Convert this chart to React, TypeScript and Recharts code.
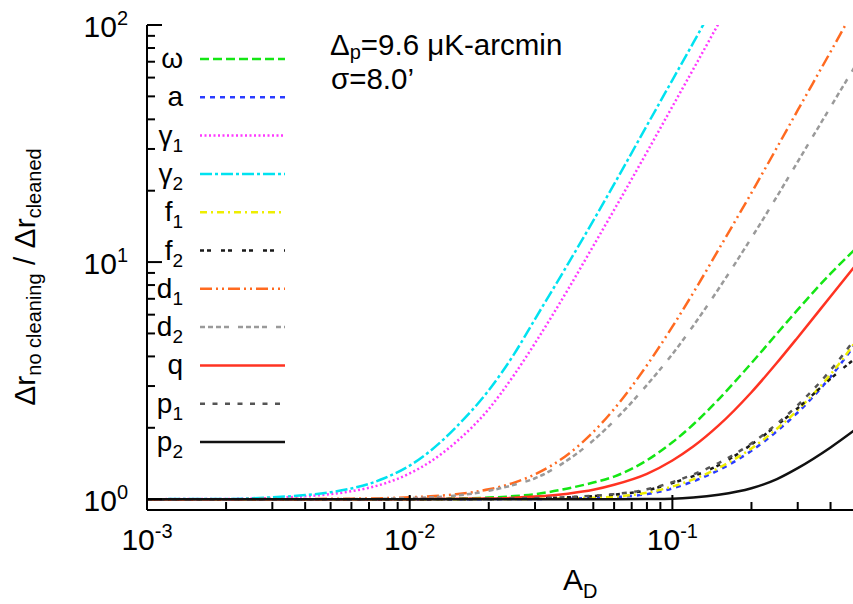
import React from 'react';
import { LineChart, Line, XAxis, YAxis, Customized } from 'recharts';

const xValues = [0.001, 0.002, 0.003, 0.004, 0.005, 0.006, 0.007, 0.008, 0.01, 0.012, 0.015, 0.02, 0.025, 0.03, 0.04, 0.05, 0.06, 0.08, 0.1, 0.12, 0.15, 0.2, 0.25, 0.3, 0.4, 0.5];

const omega = [1, 1, 1, 1, 1, 1, 1, 1, 1, 1.002, 1.006, 1.015, 1.03, 1.05, 1.11, 1.175, 1.245, 1.459, 1.737, 2.064, 2.638, 3.75, 4.99, 6.3, 8.94, 11.43];
const aSeries = [1, 1, 1, 1, 1, 1, 1, 1, 1, 1, 1, 1, 1.001, 1.002, 1.005, 1.011, 1.02, 1.05, 1.11, 1.188, 1.325, 1.6, 1.935, 2.32, 3.28, 4.55];
const gamma1 = [1, 1.002, 1.012, 1.028, 1.05, 1.08, 1.117, 1.163, 1.284, 1.44, 1.74, 2.4, 3.35, 4.55, 7.65, 11.7, 16.6, 29.1, 45.3, 65.0, 101.6, 180, null, null, null, null];
const gamma2 = [1, 1.002, 1.018, 1.04, 1.07, 1.11, 1.16, 1.225, 1.385, 1.6, 2.01, 2.88, 4.1, 5.75, 9.8, 14.96, 21.3, 37.7, 58.6, 84.0, 131.5, null, null, null, null, null];
const f1 = [1, 1, 1, 1, 1, 1, 1, 1, 1, 1, 1, 1.001, 1.002, 1.003, 1.007, 1.014, 1.025, 1.064, 1.13, 1.211, 1.354, 1.637, 1.98, 2.376, 3.356, 4.64];
const f2 = [1, 1, 1, 1, 1, 1, 1, 1, 1, 1, 1.001, 1.002, 1.004, 1.008, 1.018, 1.03, 1.045, 1.09, 1.17, 1.25, 1.39, 1.7, 2.05, 2.42, 3.22, 3.95];
const d1 = [1, 1, 1.001, 1.002, 1.003, 1.005, 1.007, 1.01, 1.018, 1.028, 1.049, 1.1, 1.174, 1.272, 1.544, 1.92, 2.4, 3.67, 5.34, 7.41, 11.3, 19.6, 30.4, 43.7, 77.1, 120.6];
const d2 = [1, 1, 1, 1, 1, 1.001, 1.002, 1.004, 1.01, 1.018, 1.035, 1.085, 1.15, 1.225, 1.464, 1.77, 2.14, 3.03, 4.09, 5.38, 7.72, 12.66, 18.9, 26.5, 45.1, 68];
const q = [1, 1, 1, 1, 1, 1, 1, 1, 1, 1.001, 1.003, 1.007, 1.014, 1.025, 1.055, 1.095, 1.15, 1.279, 1.456, 1.666, 2.046, 2.825, 3.76, 4.81, 7.16, 9.75];
const p1 = [1, 1, 1, 1, 1, 1, 1, 1, 1, 1.001, 1.002, 1.003, 1.006, 1.01, 1.02, 1.033, 1.05, 1.1, 1.18, 1.27, 1.42, 1.72, 2.08, 2.49, 3.5, 4.8];
const p2 = [1, 1, 1, 1, 1, 1, 1, 1, 1, 1, 1, 1, 1, 1, 1, 1, 1, 1.002, 1.005, 1.0156, 1.043, 1.111, 1.215, 1.351, 1.652, 1.975];

const seriesKeys = ['omega', 'a', 'gamma1', 'gamma2', 'f1', 'f2', 'd1', 'd2', 'q', 'p1', 'p2'];
const seriesValues = [omega, aSeries, gamma1, gamma2, f1, f2, d1, d2, q, p1, p2];
const legendNames = ['ω', 'a', 'γ', 'γ', 'f', 'f', 'd', 'd', 'q', 'p', 'p'];
const legendSubs = ['', '', '1', '2', '1', '2', '1', '2', '', '1', '2'];

const xTicks = [0.001, 0.002, 0.003, 0.004, 0.005, 0.006, 0.007, 0.008, 0.009, 0.01, 0.02, 0.03, 0.04, 0.05, 0.06, 0.07, 0.08, 0.09, 0.1, 0.2, 0.3, 0.4];
const xMajor = [0.001, 0.01, 0.1];
const xMajorLabels = ['-3', '-2', '-1'];
const yTicks = [1, 2, 3, 4, 5, 6, 7, 8, 9, 10, 20, 30, 40, 50, 60, 70, 80, 90, 100];
const yMajor = [1, 10, 100];
const yMajorLabels = ['0', '1', '2'];

const colors = ['#14e614', '#2a3cff', '#ff38ff', '#00e2f0', '#eeee00', '#1a1a1a', '#ff6a20', '#9a9a9a', '#ff3322', '#555555', '#111111'];
const dashes = ['9 4', '5 5', '2 2.5', '12 3 3 3', '7 4 2 4', '4 3 4 10', '12 4 2 4 2 4', '5 3 5 3 5 3 5 9', '', '5 7.5', ''];

const FONT = '"Liberation Sans", Arial, Helvetica, sans-serif';

const data = xValues.map((x, i) => {
  const row: Record<string, number | null> = { x };
  seriesKeys.forEach((k, j) => {
    row[k] = seriesValues[j][i];
  });
  return row;
});

const MAJ = 15;
const MIN = 8;

const BottomTick = (props: any) => {
  const { x, y, payload } = props;
  const idx = xMajor.indexOf(payload.value);
  const len = idx >= 0 ? MAJ : MIN;
  return (
    <g>
      <line x1={x} x2={x} y1={y} y2={y - len} stroke="#000" strokeWidth={2} />
      {idx >= 0 && (
        <text x={x} y={y + 40} textAnchor="middle" fontFamily={FONT} fontSize={30} fill="#000">
          <tspan>10</tspan>
          <tspan dy={-12} fontSize={20}>{xMajorLabels[idx]}</tspan>
        </text>
      )}
    </g>
  );
};

const TopTick = (props: any) => {
  const { x, y, payload } = props;
  const idx = xMajor.indexOf(payload.value);
  const len = idx >= 0 ? MAJ : MIN;
  return <line x1={x} x2={x} y1={y} y2={y + len} stroke="#000" strokeWidth={2} />;
};

const LeftTick = (props: any) => {
  const { x, y, payload } = props;
  const idx = yMajor.indexOf(payload.value);
  const len = idx >= 0 ? MAJ : MIN;
  return (
    <g>
      <line x1={x} x2={x + len} y1={y} y2={y} stroke="#000" strokeWidth={2} />
      {idx >= 0 && (
        <text x={x - 19} y={y + 12} textAnchor="end" fontFamily={FONT} fontSize={30} fill="#000">
          <tspan>10</tspan>
          <tspan dy={-12} fontSize={20}>{yMajorLabels[idx]}</tspan>
        </text>
      )}
    </g>
  );
};

const RightTick = (props: any) => {
  const { x, y, payload } = props;
  const idx = yMajor.indexOf(payload.value);
  const len = idx >= 0 ? MAJ : MIN;
  return <line x1={x} x2={x - len} y1={y} y2={y} stroke="#000" strokeWidth={2} />;
};

const Decorations = () => (
  <g fontFamily={FONT} fill="#000">
    {legendNames.map((name, i) => {
      const ly = 59 + i * 38.3;
      return (
        <g key={i}>
          <text x={183} y={ly + 9} textAnchor="end" fontSize={28}>
            <tspan>{name}</tspan>
            {legendSubs[i] && (
              <tspan dy={7} fontSize={19}>{legendSubs[i]}</tspan>
            )}
          </text>
          <line
            x1={200}
            x2={285}
            y1={ly}
            y2={ly}
            stroke={colors[i]}
            strokeWidth={2.5}
            strokeDasharray={dashes[i] || undefined}
          />
        </g>
      );
    })}
    <text x={330} y={55} fontSize={29.5}>
      <tspan>Δ</tspan>
      <tspan dy={4} fontSize={20}>p</tspan>
      <tspan dy={-4}>=9.6 μK-arcmin</tspan>
    </text>
    <text x={331} y={89} fontSize={29.5}>σ=8.0’</text>
    <text x={563} y={590} fontSize={30}>
      <tspan>A</tspan>
      <tspan dy={8} fontSize={20}>D</tspan>
    </text>
    <text transform="translate(35,277) rotate(-90)" textAnchor="middle" fontSize={30} style={{ whiteSpace: 'pre' }}>
      <tspan>Δr</tspan>
      <tspan dy={6} fontSize={20}>no cleaning</tspan>
      <tspan dy={-6}>{' / Δr'}</tspan>
      <tspan dy={6} fontSize={20}>cleaned</tspan>
    </text>
  </g>
);

export default function App() {
  return (
    <div style={{ position: 'fixed', left: 0, top: 0, width: 853, height: 604, overflow: 'hidden', background: '#fff' }}>
      <LineChart width={860} height={604} data={data} margin={{ top: 25, right: 4, bottom: 0, left: 0 }}>
        <XAxis
          dataKey="x"
          type="number"
          scale="log"
          domain={[0.001, 0.5]}
          allowDataOverflow
          ticks={xTicks}
          interval={0}
          tickSize={0}
          tickMargin={0}
          tickLine={false}
          tick={BottomTick}
          height={94}
          axisLine={{ stroke: '#000', strokeWidth: 2 }}
        />
        <XAxis
          xAxisId="top"
          orientation="top"
          dataKey="x"
          type="number"
          scale="log"
          domain={[0.001, 0.5]}
          allowDataOverflow
          ticks={xTicks}
          interval={0}
          tickSize={0}
          tickMargin={0}
          tickLine={false}
          tick={TopTick}
          height={0}
          axisLine={{ stroke: '#000', strokeWidth: 2 }}
        />
        <YAxis
          type="number"
          scale="log"
          domain={[0.9, 100]}
          allowDataOverflow
          ticks={yTicks}
          interval={0}
          tickSize={0}
          tickMargin={0}
          tickLine={false}
          tick={LeftTick}
          width={147}
          axisLine={{ stroke: '#000', strokeWidth: 2 }}
        />
        <YAxis
          yAxisId="right"
          orientation="right"
          type="number"
          scale="log"
          domain={[0.9, 100]}
          allowDataOverflow
          ticks={yTicks}
          interval={0}
          tickSize={0}
          tickMargin={0}
          tickLine={false}
          tick={RightTick}
          width={0}
          axisLine={{ stroke: '#000', strokeWidth: 2 }}
        />
        {seriesKeys.map((k, i) => (
          <Line
            key={k}
            dataKey={k}
            type="monotone"
            stroke={colors[i]}
            strokeWidth={2.5}
            strokeDasharray={dashes[i] || undefined}
            dot={false}
            activeDot={false}
            isAnimationActive={false}
            connectNulls={false}
          />
        ))}
        <Customized component={<Decorations />} />
      </LineChart>
    </div>
  );
}
